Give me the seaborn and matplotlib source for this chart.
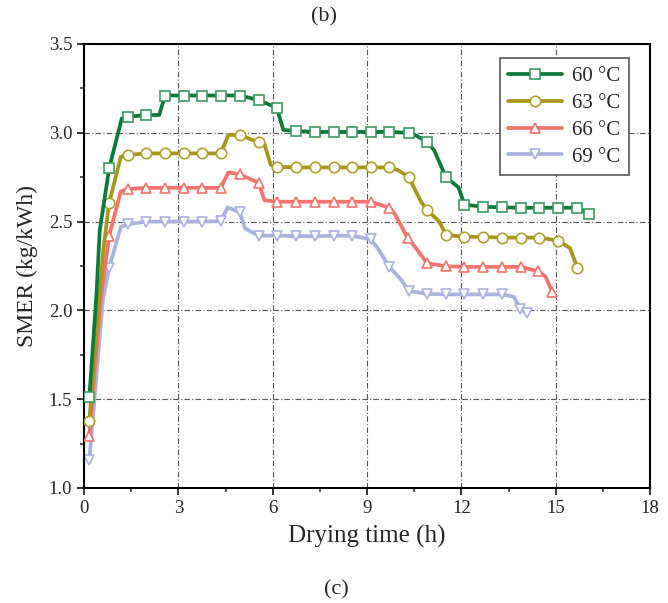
import numpy as np
import matplotlib
matplotlib.use('Agg')
import matplotlib.pyplot as plt
import seaborn as sns

# Marker points (h, kg/kWh)
t_mk = [0.17, 0.80, 1.39, 1.98, 2.58, 3.17, 3.76, 4.35, 4.95, 5.55, 6.13, 6.74, 7.35, 7.94,
        8.53, 9.12, 9.71, 10.32, 10.91, 11.51, 12.10, 12.70, 13.30, 13.89, 14.48, 15.08, 15.69]

t60 = t_mk + [16.07]
v60 = [1.51, 2.80, 3.09, 3.10, 3.21, 3.21, 3.21, 3.21, 3.21, 3.185, 3.14, 3.01, 3.005, 3.005,
       3.005, 3.005, 3.005, 3.00, 2.95, 2.75, 2.595, 2.584, 2.58, 2.578, 2.578, 2.578, 2.578, 2.543]
t63 = t_mk
v63 = [1.38, 2.605, 2.875, 2.884, 2.884, 2.884, 2.884, 2.884, 2.988, 2.946, 2.809, 2.805, 2.805, 2.805,
       2.805, 2.805, 2.805, 2.753, 2.565, 2.425, 2.415, 2.413, 2.41, 2.41, 2.41, 2.393, 2.24]
t66 = t_mk[:17] + [10.30, 10.91, 11.51, 12.10, 12.70, 13.30, 13.89, 14.45, 14.89]
v66 = [1.29, 2.42, 2.684, 2.69, 2.69, 2.69, 2.69, 2.69, 2.766, 2.719, 2.612, 2.612, 2.612, 2.612,
       2.612, 2.612, 2.578, 2.406, 2.265, 2.249, 2.245, 2.245, 2.245, 2.245, 2.22, 2.105]
t69 = t_mk[:23] + [13.87, 14.09]
v69 = [1.16, 2.24, 2.485, 2.50, 2.50, 2.50, 2.50, 2.503, 2.552, 2.421, 2.421, 2.418, 2.418, 2.42,
       2.42, 2.40, 2.246, 2.11, 2.093, 2.09, 2.09, 2.09, 2.09, 2.007, 1.984]

# Extra bends of the drawn curves between markers
b60_t = [0.40, 0.50, 1.20, 2.39, 6.34, 10.53, 11.14, 11.91]
b60_v = [2.10, 2.45, 3.08, 3.10, 3.016, 2.987, 2.90, 2.693]
b63_t = [0.48, 0.62, 1.17, 4.59, 5.74, 5.94, 9.98, 10.72, 11.30, 15.46]
b63_v = [2.06, 2.35, 2.865, 2.988, 2.935, 2.819, 2.79, 2.612, 2.50, 2.35]
b66_t = [0.53, 1.17, 4.59, 5.74, 9.87, 10.56, 14.68]
b66_v = [2.06, 2.67, 2.777, 2.62, 2.547, 2.35, 2.19]
b69_t = [0.60, 1.17, 4.57, 5.12, 9.34, 10.09, 13.67]
b69_v = [2.06, 2.47, 2.58, 2.462, 2.35, 2.171, 2.077]

labels = ['60 °C', '63 °C', '66 °C', '69 °C']
colors = ['#0b7a3a', '#a8961a', '#f2746d', '#a9b3df']
edge_colors = ['#3a9a62', '#b0a030', '#f2746d', '#a9b3df']
markers = ['s', 'o', '^', 'v']

sns.set_style('ticks')
plt.rcParams['font.family'] = ['Liberation Serif', 'DejaVu Serif']

fig = plt.figure(figsize=(6.68, 6.03), dpi=100)
ax = fig.add_axes([84 / 668, 1 - 488 / 603, 566 / 668, 444 / 603])

series = [(t60, v60, b60_t, b60_v), (t63, v63, b63_t, b63_v),
          (t66, v66, b66_t, b66_v), (t69, v69, b69_t, b69_v)]

for i, (tm, vm, tb, vb) in enumerate(series):
    t = np.array(tm + tb)
    v = np.array(vm + vb)
    order = np.argsort(t, kind='stable')
    is_mk = np.r_[np.ones(len(tm), bool), np.zeros(len(tb), bool)][order]
    mk_idx = list(np.where(is_mk)[0])
    sns.lineplot(x=t[order], y=v[order], ax=ax, sort=False, estimator=None,
                 color=colors[i], lw=2.7, label=labels[i],
                 marker=markers[i], markevery=mk_idx, markersize=7.5,
                 markerfacecolor='white', markeredgecolor=edge_colors[i],
                 markeredgewidth=1.2, solid_joinstyle='round', zorder=5 - i)

ax.set_xlim(0, 18)
ax.set_ylim(1.0, 3.5)
ax.set_xticks(np.arange(0, 19, 3))
ax.set_xticks(np.arange(0, 18.1, 1.5), minor=True)
ax.set_yticks(np.arange(1.0, 3.51, 0.5))
ax.set_yticks(np.arange(1.0, 3.51, 0.25), minor=True)
ax.yaxis.set_major_formatter(matplotlib.ticker.FormatStrFormatter('%.1f'))

ax.grid(True, which='major', color='#555555', lw=0.8, linestyle=(0, (5, 2, 1, 2)))
ax.tick_params(axis='both', which='major', direction='out', length=5, width=1.3,
               labelsize=13.5, top=False, right=False)
ax.tick_params(axis='both', which='minor', direction='out', length=3, width=1.1,
               top=False, right=False)
for sp in ax.spines.values():
    sp.set_visible(True)
    sp.set_linewidth(1.5)
    sp.set_color('black')

ax.set_xlabel('Drying time (h)', fontsize=18, labelpad=6)
ax.set_ylabel('SMER (kg/kWh)', fontsize=17, labelpad=8)

h, l = ax.get_legend_handles_labels()
leg = ax.legend(h, l, loc='upper right', bbox_to_anchor=(0.963, 0.968), borderaxespad=0,
                fontsize=15, handlelength=2.6, labelspacing=0.35, numpoints=1,
                fancybox=False, framealpha=1, edgecolor='#555555', borderpad=0.4,
                handletextpad=0.5)
leg.get_frame().set_linewidth(1.2)

fig.text(324 / 668, 1 - 17 / 603, '(b)', ha='center', va='center', fontsize=16)
fig.text(336 / 668, 1 - 590 / 603, '(c)', ha='center', va='center', fontsize=16)

fig.savefig('out.png', dpi=100)
plt.close(fig)
